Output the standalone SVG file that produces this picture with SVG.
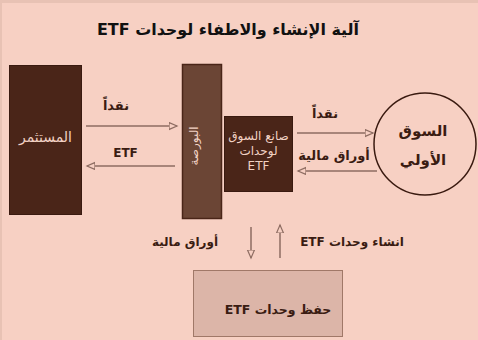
<svg xmlns="http://www.w3.org/2000/svg" width="478" height="340" viewBox="0 0 478 340">
<style>
text{direction:rtl;unicode-bidi:embed}
.lbl{font-family:"DejaVu Sans","Noto Sans",sans-serif;font-weight:bold;fill:#3a1c12;text-anchor:middle}
.lt{font-family:"DejaVu Sans","Noto Sans",sans-serif;fill:#f2d2c4;text-anchor:middle}
.arr{stroke:#8e6d62;stroke-width:1.5;fill:none}
</style>
<defs>
<marker id="ah" markerWidth="10" markerHeight="10" refX="8" refY="4" orient="auto" markerUnits="userSpaceOnUse">
<path d="M0,0.5 L8,4 L0,7.5 Z" fill="#f7d0c3" stroke="#8e6d62" stroke-width="1.2"/>
</marker>
</defs>
<rect x="0" y="0" width="478" height="340" fill="#e8c2b4"/>
<rect x="2" y="3" width="476" height="337" fill="#f7d0c3"/>
<text x="228" y="35" font-family="DejaVu Sans,sans-serif" font-weight="bold" font-size="16" fill="#111" text-anchor="middle" textLength="262" lengthAdjust="spacingAndGlyphs">آلية الإنشاء والاطفاء لوحدات ETF</text>
<g id="investor">
<rect x="9.5" y="65.5" width="72" height="149" fill="#4a2518" stroke="#3a1a10"/>
<text class="lt" x="45.5" y="142" font-size="14">المستثمر</text>
</g>
<g id="exchange">
<rect x="182.5" y="64.5" width="39" height="154" fill="#6b4535" stroke="#4a2518" stroke-width="1.5"/>
<text class="lt" font-size="12" transform="translate(198,146) rotate(-90)" fill="#e6c2b2">البورصة</text>
</g>
<g id="marketmaker">
<rect x="224.5" y="116.5" width="68" height="75" fill="#4a2518" stroke="#3a1a10"/>
<text class="lt" x="258.5" y="140" font-size="12">صانع السوق</text>
<text class="lt" x="258.5" y="155" font-size="12">لوحدات</text>
<text class="lt" x="258.5" y="170" font-size="12">ETF</text>
</g>
<g id="primary">
<circle cx="425" cy="144" r="51" fill="none" stroke="#3a1a10" stroke-width="1.5"/>
<text class="lbl" x="423" y="136" font-size="15">السوق</text>
<text class="lbl" x="423" y="165" font-size="15">الأولي</text>
</g>
<g id="custody">
<rect x="193.5" y="270.5" width="149" height="66" fill="#dcb5a8" stroke="#a07868"/>
<text class="lbl" x="278" y="314" font-size="12.5">حفظ وحدات ETF</text>
</g>
<g id="connectors">
<line class="arr" x1="86" y1="126" x2="177" y2="126" marker-end="url(#ah)"/>
<line class="arr" x1="175" y1="166" x2="87" y2="166" marker-end="url(#ah)"/>
<line class="arr" x1="297" y1="133" x2="373" y2="133" marker-end="url(#ah)"/>
<line class="arr" x1="377" y1="171" x2="298" y2="171" marker-end="url(#ah)"/>
<line class="arr" x1="251" y1="227" x2="251" y2="258" marker-end="url(#ah)"/>
<line class="arr" x1="280" y1="258" x2="280" y2="225" marker-end="url(#ah)"/>
</g>
<g id="labels">
<text class="lbl" x="116" y="110" font-size="13">نقداً</text>
<text class="lbl" x="125.5" y="157" font-size="12" fill="#111">ETF</text>
<text class="lbl" x="325" y="118" font-size="13">نقداً</text>
<text class="lbl" x="334" y="160" font-size="13">أوراق مالية</text>
<text class="lbl" x="185" y="246" font-size="12">أوراق مالية</text>
<text class="lbl" x="352" y="246" font-size="12">انشاء وحدات ETF</text>
</g>
</svg>
